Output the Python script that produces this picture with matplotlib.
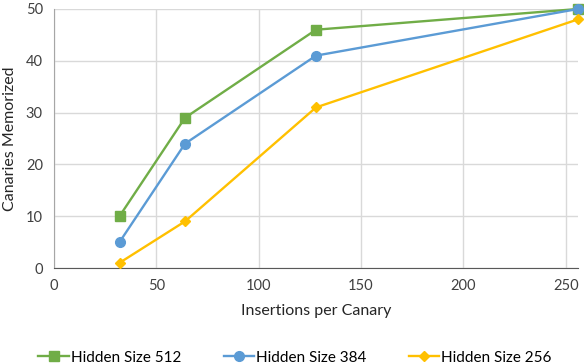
import matplotlib
matplotlib.use("Agg")
import matplotlib.pyplot as plt

insertions = [32, 64, 128, 256]
hs512 = [10, 29, 46, 50]
hs384 = [5, 24, 41, 50]
hs256 = [1, 9, 31, 48]
labels = ["Hidden Size 512", "Hidden Size 384", "Hidden Size 256"]
xticks = [0, 50, 100, 150, 200, 250]
yticks = [0, 10, 20, 30, 40, 50]

plt.rcParams['font.family'] = ['Lato', 'DejaVu Sans']

fig = plt.figure(figsize=(5.84, 3.64), dpi=100)
ax = fig.add_axes([0.0925, 0.2637, 0.8972, 0.7116])

ax.plot(insertions, hs512, color='#70AD47', lw=1.7, marker='s', ms=7, label=labels[0], clip_on=False, zorder=3)
ax.plot(insertions, hs384, color='#5B9BD5', lw=1.7, marker='o', ms=7, label=labels[1], clip_on=False, zorder=4)
ax.plot(insertions, hs256, color='#FFC000', lw=1.7, marker='D', ms=5.5, label=labels[2], clip_on=False, zorder=5)

ax.set_xlim(0, 256)
ax.set_ylim(0, 50)
ax.set_xticks(xticks)
ax.set_yticks(yticks)
ax.tick_params(length=0, labelsize=10.5, colors='#404040', pad=8)
ax.grid(True, color='#D9D9D9', lw=1)
ax.set_axisbelow(True)
for s in ['top', 'right']:
    ax.spines[s].set_visible(False)
ax.spines['left'].set_color('#A6A6A6')
ax.spines['bottom'].set_color('#595959')

ax.set_xlabel("Insertions per Canary", fontsize=11.5, color='#262626', labelpad=8)
ax.set_ylabel("Canaries Memorized", fontsize=11.5, color='#262626', labelpad=6)

fig.legend(loc='lower center', bbox_to_anchor=(0.505, -0.04), ncol=3, frameon=False,
           fontsize=11, handlelength=2.0, columnspacing=2.8, handletextpad=0.1)

fig.savefig("out.png", dpi=100)
